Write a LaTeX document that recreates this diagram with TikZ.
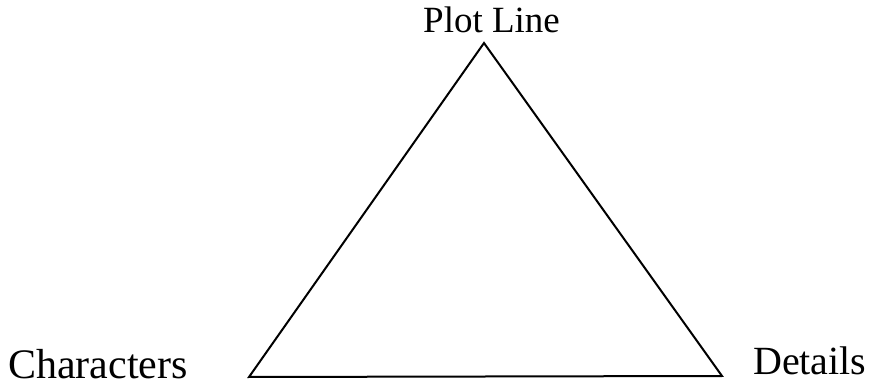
\documentclass[tikz,border=0pt]{standalone}
\usepackage{fontspec}
\setmainfont{Liberation Serif}
\begin{document}
\begin{tikzpicture}[x=1pt,y=-1pt,
  lbl/.style={inner sep=0pt, anchor=base west, text=black},
  tri/.style={draw=black, line width=2pt, line join=miter}]
\useasboundingbox (0,0) rectangle (876,387);
\coordinate (apex) at (484,43);
\coordinate (bl) at (249,377);
\coordinate (br) at (722,376);
\draw[tri] (apex) -- (br) -- (bl) -- cycle;
\node[lbl, font=\fontsize{37}{42}\selectfont] (plot) at (423,33) {Plot Line};
\node[lbl, font=\fontsize{42}{48}\selectfont] (chars) at (8,378) {Characters};
\node[lbl, font=\fontsize{40}{46}\selectfont] (det) at (753,374) {Details};
\end{tikzpicture}
\end{document}
